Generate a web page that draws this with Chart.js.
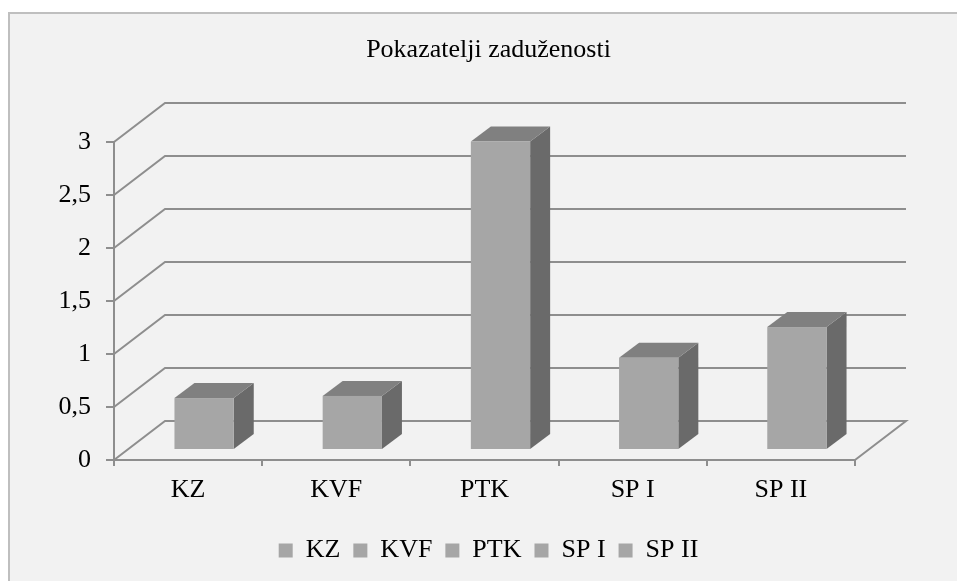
<!DOCTYPE html>
<html lang="hr">
<head>
<meta charset="UTF-8" />
<title>Pokazatelji zaduženosti</title>
<script src="https://cdn.jsdelivr.net/npm/chart.js"></script>
<style>
  html, body { margin: 0; padding: 0; background: #fff; }
  canvas { display: block; }
</style>
</head>
<body>
<canvas id="chart" width="957" height="581"></canvas>
<script>
  // data
  const categories = ["KZ", "KVF", "PTK", "SP I", "SP II"];
  const values = [0.49, 0.51, 2.91, 0.87, 1.16];
  const yTicks = [0, 0.5, 1, 1.5, 2, 2.5, 3];
  const chartTitle = "Pokazatelji zaduženosti";

  const FONT = "'Liberation Serif', 'Times New Roman', serif";
  const FS = 26;
  const GRID = "#8e8e8e";
  const FRONT = "#a6a6a6";
  const TOP = "#808080";
  const SIDE = "#6a6a6a";

  // 3d look: depth of the walls and of the bars
  const WALL_DX = 51, WALL_DY = -39;
  const BAR_OX = 16, BAR_OY = -10, BAR_DX = 20, BAR_DY = -15;

  // panel background + border
  const panelPlugin = {
    id: "panel",
    beforeDraw(chart) {
      const { ctx, width, height } = chart;
      ctx.save();
      ctx.fillStyle = "#fff";
      ctx.fillRect(0, 0, width, height);
      ctx.fillStyle = "#f2f2f2";
      ctx.fillRect(9, 13, width - 9, height - 13);
      ctx.strokeStyle = "#bfbfbf";
      ctx.lineWidth = 2;
      ctx.beginPath();
      ctx.moveTo(9, height);
      ctx.lineTo(9, 13);
      ctx.lineTo(width, 13);
      ctx.stroke();
      ctx.restore();
    },
  };

  // back wall gridlines, side wall diagonals and floor
  const wallPlugin = {
    id: "walls",
    beforeDatasetsDraw(chart) {
      const { ctx, chartArea: a, scales } = chart;
      const y = scales.y;
      ctx.save();
      ctx.strokeStyle = GRID;
      ctx.lineWidth = 2;
      yTicks.forEach((v) => {
        const py = y.getPixelForValue(v);
        ctx.beginPath();
        ctx.moveTo(a.left, py);
        ctx.lineTo(a.left + WALL_DX, py + WALL_DY);
        ctx.lineTo(a.right + WALL_DX, py + WALL_DY);
        if (v === 0) ctx.lineTo(a.right, py);
        ctx.stroke();
      });
      ctx.restore();
    },
  };

  // draw every bar as a box, using the positions chart.js computed
  const boxPlugin = {
    id: "boxes",
    afterDatasetsDraw(chart) {
      const { ctx } = chart;
      const meta = chart.getDatasetMeta(0);
      ctx.save();
      meta.data.forEach((bar) => {
        const l = bar.x - bar.width / 2 + BAR_OX;
        const r = bar.x + bar.width / 2 + BAR_OX;
        const t = bar.y + BAR_OY;
        const b = bar.base + BAR_OY;

        ctx.fillStyle = SIDE;
        ctx.beginPath();
        ctx.moveTo(r, t);
        ctx.lineTo(r + BAR_DX, t + BAR_DY);
        ctx.lineTo(r + BAR_DX, b + BAR_DY);
        ctx.lineTo(r, b);
        ctx.closePath();
        ctx.fill();

        ctx.fillStyle = TOP;
        ctx.beginPath();
        ctx.moveTo(l, t);
        ctx.lineTo(l + BAR_DX, t + BAR_DY);
        ctx.lineTo(r + BAR_DX, t + BAR_DY);
        ctx.lineTo(r, t);
        ctx.closePath();
        ctx.fill();

        ctx.fillStyle = FRONT;
        ctx.fillRect(l, t, r - l, b - t);
      });
      ctx.restore();
    },
  };

  new Chart(document.getElementById("chart"), {
    type: "bar",
    data: {
      labels: categories,
      datasets: [
        {
          data: values,
          backgroundColor: "rgba(0,0,0,0)",
          borderWidth: 0,
          barPercentage: 0.4,
          categoryPercentage: 1,
        },
      ],
    },
    options: {
      responsive: false,
      animation: false,
      events: [],
      layout: { padding: { left: 20, right: 0, top: 0, bottom: 7.5 } },
      plugins: {
        title: {
          display: true,
          text: chartTitle,
          color: "#000",
          font: { family: FONT, size: FS, weight: "normal" },
          padding: { top: 34.5, bottom: 76.3 },
        },
        legend: {
          position: "bottom",
          onClick: null,
          labels: {
            color: "#000",
            font: { family: FONT, size: FS },
            boxWidth: 14,
            boxHeight: 14,
            padding: 13,
            generateLabels: () =>
              categories.map((c, i) => ({
                text: c,
                fillStyle: FRONT,
                strokeStyle: FRONT,
                lineWidth: 0,
                fontColor: "#000",
                hidden: false,
                index: i,
                datasetIndex: 0,
              })),
          },
        },
        tooltip: { enabled: false },
      },
      scales: {
        x: {
          offset: true,
          grid: {
            offset: true,
            drawOnChartArea: false,
            drawTicks: true,
            tickLength: 6,
            color: GRID,
            lineWidth: 2,
          },
          border: { display: true, color: GRID, width: 2 },
          ticks: {
            color: "#000",
            font: { family: FONT, size: FS },
            padding: 9,
            maxRotation: 0,
          },
          afterFit(s) {
            s.height = 64.5;
          },
        },
        y: {
          min: 0,
          max: 3,
          afterBuildTicks(s) {
            s.ticks = yTicks.map((v) => ({ value: v }));
          },
          grid: {
            drawOnChartArea: false,
            drawTicks: true,
            tickLength: 8,
            color: GRID,
            lineWidth: 2,
          },
          border: { display: true, color: GRID, width: 2 },
          ticks: {
            color: "#000",
            font: { family: FONT, size: FS },
            padding: 15,
            callback: (v) => String(v).replace(".", ","),
          },
          afterFit(s) {
            s.width = 94;
          },
        },
        yR: {
          position: "right",
          display: true,
          min: 0,
          max: 3,
          grid: { display: false },
          border: { display: false },
          ticks: { display: false },
          afterFit(s) {
            s.width = 102;
          },
        },
      },
    },
    plugins: [panelPlugin, wallPlugin, boxPlugin],
  });
</script>
</body>
</html>
